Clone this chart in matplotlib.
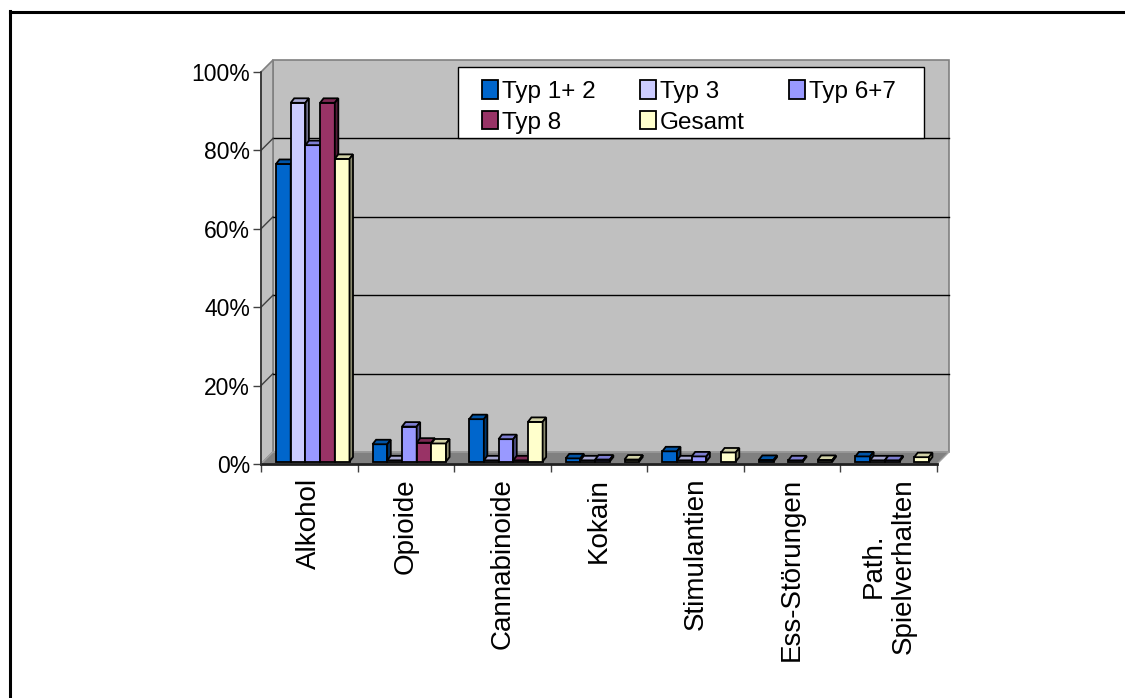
import numpy as np
import matplotlib
matplotlib.use("Agg")
import matplotlib.pyplot as plt
import matplotlib.colors as mcolors
from matplotlib.patches import Polygon, Rectangle
from matplotlib.lines import Line2D
from matplotlib.ticker import FixedLocator, PercentFormatter, NullFormatter

# Anteil der Klienten je Hauptdiagnose, nach Einrichtungstyp
categories = ["Alkohol", "Opioide", "Cannabinoide", "Kokain", "Stimulantien",
              "Ess-Störungen", "Path.\nSpielverhalten"]
series = ["Typ 1+ 2", "Typ 3", "Typ 6+7", "Typ 8", "Gesamt"]

typ_1_2 = [0.759, 0.044, 0.108, 0.008, 0.026, 0.004, 0.013]
typ_3 = [0.915, 0.003, 0.003, 0.003, 0.003, 0.0, 0.003]
typ_6_7 = [0.807, 0.089, 0.057, 0.005, 0.013, 0.003, 0.003]
typ_8 = [0.915, 0.048, 0.003, 0.0, 0.0, 0.0, 0.0]
gesamt = [0.772, 0.046, 0.101, 0.005, 0.023, 0.004, 0.011]
values = [typ_1_2, typ_3, typ_6_7, typ_8, gesamt]

colors = ["#0066CC", "#CCCCFF", "#9999FF", "#993366", "#FFFFCC"]
yticks = [0.0, 0.2, 0.4, 0.6, 0.8, 1.0]

FONT = ["Liberation Sans", "DejaVu Sans"]

W, H = 1125, 698
fig = plt.figure(figsize=(W / 100, H / 100), dpi=100)
fig.patch.set_facecolor("white")

# front plane of the 3-D box
ax_l, ax_b, ax_w, ax_h = 261, 234, 676, 392
ax = fig.add_axes([ax_l / W, ax_b / H, ax_w / W, ax_h / H])
n = len(categories)
ax.set_xlim(0, n)
ax.set_ylim(0, 1)
ax.patch.set_visible(False)

# pixel -> data units
sx = n / ax_w
sy = 1 / ax_h

# depth of walls and of the bars (oblique projection)
wdx, wdy = 12 * sx, 12 * sy
fdx, fdy = 2.5 * sx, 2.5 * sy
ddx, ddy = 3.5 * sx, 4.5 * sy

wall = "#C0C0C0"
edge = "#808080"
ax.add_patch(Rectangle((wdx, wdy), n, 1, fc=wall, ec=edge, lw=1.2,
                       clip_on=False, zorder=0.5))
ax.add_patch(Polygon([(0, 0), (wdx, wdy), (wdx, 1 + wdy), (0, 1)], closed=True,
                     fc=wall, ec=edge, lw=1.2, clip_on=False, zorder=0.6))
for v in yticks[1:-1]:
    ax.plot([wdx, n + wdx], [v + wdy, v + wdy], color="black", lw=1.0,
            clip_on=False, zorder=0.8)
    ax.plot([0, wdx], [v, v + wdy], color="#404040", lw=1.0,
            clip_on=False, zorder=0.8)
ax.add_patch(Polygon([(0, 0), (n, 0), (n + wdx, wdy), (wdx, wdy)], closed=True,
                     fc="#808080", ec="#A0A0A0", lw=1.0, clip_on=False, zorder=1))

# bars
bw = 14.7 * sx
start = 12.5 * sx
handles = []
for j, (name, vals, c) in enumerate(zip(series, values, colors)):
    z = 3 + 0.1 * j
    rgb = np.array(mcolors.to_rgb(c))
    top_c = rgb * 0.82
    side_c = rgb * 0.55
    xs = np.arange(n) + start + fdx + j * bw
    bars = ax.bar(xs, vals, width=bw, bottom=fdy, align="edge", color=c,
                  edgecolor="black", linewidth=1.3, clip_on=False, zorder=z,
                  label=name)
    handles.append(bars)
    for rect, v in zip(bars, vals):
        if v <= 0:
            rect.set_visible(False)
            continue
        x0, y0 = rect.get_x(), rect.get_y()
        x1, y1 = x0 + rect.get_width(), y0 + rect.get_height()
        ax.add_patch(Polygon([(x0, y1), (x1, y1), (x1 + ddx, y1 + ddy),
                              (x0 + ddx, y1 + ddy)], closed=True, fc=top_c,
                             ec="black", lw=1.3, clip_on=False, zorder=z))
        ax.add_patch(Polygon([(x1, y0), (x1 + ddx, y0 + ddy),
                              (x1 + ddx, y1 + ddy), (x1, y1)], closed=True,
                             fc=side_c, ec="black", lw=1.3, clip_on=False,
                             zorder=z))

# axes
for s in ["top", "right"]:
    ax.spines[s].set_visible(False)
ax.spines["left"].set_color("#303030")
ax.spines["left"].set_linewidth(1.2)
ax.spines["bottom"].set_color("#202020")
ax.spines["bottom"].set_linewidth(2.0)
ax.spines["bottom"].set_zorder(2)

ax.yaxis.set_major_locator(FixedLocator(yticks))
ax.yaxis.set_major_formatter(PercentFormatter(1.0, decimals=0))
ax.tick_params(axis="y", direction="out", length=6, width=1.0,
               color="#404040", pad=2)
for lab in ax.get_yticklabels():
    lab.set_fontfamily(FONT)
    lab.set_fontsize(16.5)

ax.xaxis.set_major_locator(FixedLocator(np.arange(n + 1)))
ax.xaxis.set_major_formatter(NullFormatter())
ax.xaxis.set_minor_locator(FixedLocator(np.arange(n) + 0.5))
ax.set_xticklabels(categories, minor=True, rotation=90, ha="center", va="top",
                   multialignment="center", fontfamily=FONT, fontsize=20)
ax.tick_params(axis="x", which="major", direction="out", length=6, width=1.0,
               color="#404040")
ax.tick_params(axis="x", which="minor", length=0, pad=10)

# legend box and entries, filled row by row
ax.add_patch(Rectangle((458 / W, 1 - 138 / H), 466 / W, 71 / H,
                       transform=fig.transFigure, fc="white", ec="black",
                       lw=1.0, clip_on=False, zorder=9))
order = [0, 3, 1, 4, 2]
leg = ax.legend([handles[i] for i in order], [series[i] for i in order],
                ncol=3, loc="upper left",
                bbox_to_anchor=(482 / W, 1 - 140 / H, 414 / W, 60 / H),
                bbox_transform=fig.transFigure, mode="expand",
                prop={"family": FONT, "size": 17.5}, frameon=False,
                borderaxespad=0, borderpad=0, labelspacing=0.33,
                handlelength=0.66, handleheight=0.8, handletextpad=0.16,
                columnspacing=1.0)
leg.set_zorder(10)

# chart frame (left and top edge)
fig.add_artist(Line2D([9.5 / W, 9.5 / W], [0, 1 - 11 / H],
                      transform=fig.transFigure, color="black", lw=2.2))
fig.add_artist(Line2D([9.5 / W, 1], [1 - 12 / H, 1 - 12 / H],
                      transform=fig.transFigure, color="black", lw=2.2))

fig.savefig("out.png", dpi=100)
